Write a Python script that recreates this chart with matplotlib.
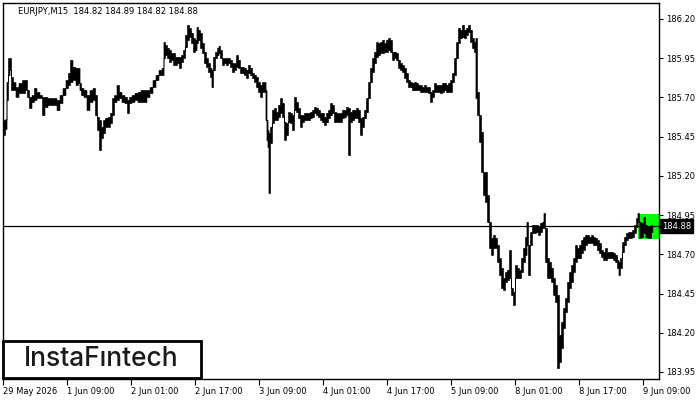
import matplotlib
matplotlib.use("Agg")
from matplotlib import pyplot as plt
from matplotlib.patches import Rectangle
import matplotlib.transforms as mtransforms

title = "EURJPY,M15  184.82 184.89 184.82 184.88"
last_price = 184.88

# M15 bars, index 0 = 29 May 2026 00:00
bar = [1, 3, 4, 6, 7, 9, 11, 14, 17, 21, 23, 25, 27, 30, 32, 35, 38, 40, 43, 46,
       49, 52, 55, 58, 61, 64, 66, 68, 71, 74, 76, 77, 79, 82, 85, 88, 91, 93, 95, 97,
       99, 101, 103, 106, 108, 110, 112, 115, 117, 120, 123, 125, 127, 130, 133, 136, 139, 142, 145, 148,
       151, 154, 157, 160, 161, 163, 165, 167, 169, 171, 173, 175, 177, 179, 181, 183, 185, 187, 189, 191,
       193, 194, 196, 198, 200, 202, 204, 206, 208, 209, 211, 213, 215, 216, 218, 220, 222, 224, 226, 228,
       230, 232, 234, 236, 238, 240, 242, 244, 246, 248, 250, 252, 254, 256, 258, 260, 262, 263, 264, 265,
       266, 268, 270, 272, 274, 276, 278, 280, 282, 284, 286, 288, 290, 292, 294, 296, 298, 300, 302, 304,
       306, 308, 310, 312, 314, 316, 318, 320, 322, 324, 326, 328, 330, 332, 335, 338, 340, 342, 344, 346,
       348, 350, 352, 354, 356, 358, 360, 362, 364, 366, 368, 370, 372, 374, 376, 378, 380, 382, 384, 386,
       388, 390, 392, 394, 396, 398, 400, 402, 404, 406, 408, 410, 412, 414, 416, 418, 420, 422, 424, 426,
       428, 430, 432, 434, 436, 438, 440, 442, 444, 446, 448, 450, 452, 454, 456, 458, 460, 462, 464, 466,
       468, 470, 472, 473, 475, 477, 479, 481, 483, 485, 487, 489, 491, 493, 495, 497, 499, 501, 503, 505,
       507, 509, 511, 513, 515, 517, 519, 521, 523, 524, 526, 528, 530, 532, 534, 536, 538, 540, 541, 543,
       545, 547, 549, 551, 553, 555, 557, 559, 561, 563, 565, 567, 569, 571, 573, 575, 577, 579, 581, 583,
       585, 587, 589, 591, 593, 595, 597, 599, 601, 603, 605, 607, 609, 611, 613, 615, 616, 618, 620, 622,
       624, 626, 628, 630, 632, 634, 635, 637, 639, 641, 643, 645, 647, 649]

high = [185.556, 185.560, 185.798, 185.951, 185.951, 185.830, 185.798, 185.766, 185.792, 185.811,
        185.811, 185.747, 185.703, 185.715, 185.760, 185.735, 185.715, 185.703, 185.703, 185.696,
        185.696, 185.696, 185.684, 185.715, 185.760, 185.811, 185.856, 185.939, 185.894, 185.888,
        185.888, 185.792, 185.760, 185.747, 185.715, 185.747, 185.760, 185.715, 185.575, 185.556,
        185.512, 185.556, 185.569, 185.575, 185.601, 185.696, 185.715, 185.779, 185.735, 185.715,
        185.703, 185.684, 185.703, 185.715, 185.728, 185.735, 185.747, 185.747, 185.747, 185.766,
        185.811, 185.843, 185.875, 185.888, 186.053, 186.034, 186.015, 186.002, 185.983, 185.983,
        185.958, 185.958, 185.958, 185.970, 186.002, 186.098, 186.162, 186.143, 186.111, 186.079,
        186.066, 186.149, 186.130, 186.111, 186.047, 185.990, 185.951, 185.919, 185.888, 185.875,
        185.958, 185.990, 186.015, 186.028, 186.002, 185.951, 185.951, 185.951, 185.951, 185.939,
        185.919, 185.919, 185.970, 185.939, 185.894, 185.894, 185.888, 185.875, 185.907, 185.888,
        185.856, 185.843, 185.830, 185.798, 185.779, 185.798, 185.798, 185.747, 185.556, 185.492,
        185.473, 185.512, 185.620, 185.633, 185.607, 185.652, 185.696, 185.664, 185.543, 185.537,
        185.607, 185.601, 185.588, 185.703, 185.671, 185.633, 185.588, 185.588, 185.601, 185.601,
        185.601, 185.607, 185.620, 185.639, 185.633, 185.620, 185.601, 185.601, 185.575, 185.601,
        185.620, 185.664, 185.652, 185.607, 185.601, 185.601, 185.620, 185.620, 185.639, 185.633,
        185.607, 185.620, 185.620, 185.633, 185.620, 185.569, 185.575, 185.620, 185.696, 185.798,
        185.888, 185.951, 185.990, 186.053, 186.047, 186.053, 186.066, 186.047, 186.066, 186.079,
        186.066, 185.990, 185.990, 185.983, 185.939, 185.919, 185.907, 185.888, 185.856, 185.811,
        185.798, 185.792, 185.798, 185.792, 185.779, 185.779, 185.766, 185.779, 185.766, 185.766,
        185.735, 185.747, 185.792, 185.779, 185.779, 185.779, 185.792, 185.792, 185.779, 185.792,
        185.811, 185.856, 185.951, 186.053, 186.143, 186.130, 186.162, 186.130, 186.143, 186.162,
        186.130, 186.079, 186.053, 186.079, 185.735, 185.588, 185.480, 185.225, 185.225, 185.078,
        184.906, 184.804, 184.823, 184.804, 184.759, 184.676, 184.613, 184.549, 184.587, 184.600,
        184.727, 184.485, 184.460, 184.632, 184.613, 184.600, 184.676, 184.740, 184.810, 184.906,
        184.759, 184.842, 184.887, 184.887, 184.887, 184.874, 184.900, 184.906, 184.963, 184.868,
        184.676, 184.651, 184.613, 184.549, 184.504, 184.441, 184.186, 184.269, 184.358, 184.422,
        184.524, 184.587, 184.632, 184.676, 184.759, 184.740, 184.759, 184.791, 184.810, 184.823,
        184.823, 184.810, 184.823, 184.810, 184.804, 184.791, 184.772, 184.727, 184.715, 184.740,
        184.715, 184.715, 184.715, 184.708, 184.696, 184.664, 184.651, 184.676, 184.778, 184.810,
        184.836, 184.842, 184.842, 184.855, 184.887, 184.931, 184.963, 184.906, 184.900, 184.938,
        184.887, 184.874, 184.874, 184.887]

low = [185.461, 185.500, 185.684, 185.843, 185.875, 185.747, 185.747, 185.703, 185.728, 185.728,
       185.747, 185.703, 185.633, 185.671, 185.684, 185.696, 185.696, 185.588, 185.639, 185.652,
       185.652, 185.652, 185.620, 185.664, 185.715, 185.760, 185.779, 185.798, 185.811, 185.779,
       185.792, 185.747, 185.715, 185.703, 185.620, 185.671, 185.684, 185.588, 185.492, 185.365,
       185.441, 185.473, 185.512, 185.512, 185.537, 185.588, 185.671, 185.684, 185.696, 185.671,
       185.664, 185.601, 185.664, 185.671, 185.684, 185.671, 185.671, 185.671, 185.703, 185.728,
       185.766, 185.811, 185.843, 185.843, 185.951, 185.970, 185.951, 185.926, 185.939, 185.907,
       185.907, 185.919, 185.888, 185.926, 185.951, 186.021, 186.066, 186.085, 186.047, 185.990,
       186.002, 186.047, 186.066, 186.015, 185.983, 185.919, 185.894, 185.862, 185.830, 185.766,
       185.875, 185.951, 185.970, 185.983, 185.951, 185.907, 185.919, 185.907, 185.919, 185.894,
       185.862, 185.875, 185.894, 185.888, 185.856, 185.856, 185.843, 185.824, 185.856, 185.843,
       185.824, 185.798, 185.766, 185.735, 185.703, 185.735, 185.735, 185.556, 185.429, 185.384,
       185.091, 185.410, 185.537, 185.556, 185.556, 185.575, 185.601, 185.575, 185.429, 185.461,
       185.543, 185.537, 185.492, 185.620, 185.607, 185.569, 185.512, 185.543, 185.556, 185.556,
       185.556, 185.569, 185.575, 185.601, 185.588, 185.575, 185.556, 185.543, 185.524, 185.543,
       185.569, 185.588, 185.601, 185.543, 185.543, 185.543, 185.569, 185.575, 185.588, 185.333,
       185.543, 185.556, 185.569, 185.569, 185.543, 185.461, 185.512, 185.569, 185.607, 185.696,
       185.798, 185.862, 185.919, 185.958, 185.970, 185.983, 185.983, 185.990, 185.990, 186.002,
       185.990, 185.939, 185.951, 185.939, 185.888, 185.875, 185.862, 185.824, 185.798, 185.766,
       185.766, 185.747, 185.747, 185.747, 185.747, 185.735, 185.735, 185.735, 185.735, 185.728,
       185.671, 185.703, 185.735, 185.735, 185.735, 185.728, 185.735, 185.747, 185.735, 185.735,
       185.735, 185.798, 185.843, 185.951, 186.047, 186.079, 186.085, 186.079, 186.098, 186.117,
       186.053, 186.015, 185.990, 185.696, 185.588, 185.416, 185.225, 185.078, 185.033, 184.906,
       184.740, 184.696, 184.740, 184.740, 184.651, 184.568, 184.485, 184.473, 184.524, 184.536,
       184.549, 184.441, 184.377, 184.549, 184.549, 184.549, 184.587, 184.651, 184.696, 184.759,
       184.568, 184.759, 184.836, 184.836, 184.842, 184.823, 184.842, 184.868, 184.868, 184.651,
       184.549, 184.549, 184.524, 184.441, 184.396, 183.975, 184.014, 184.103, 184.230, 184.332,
       184.396, 184.485, 184.524, 184.587, 184.651, 184.676, 184.676, 184.708, 184.727, 184.759,
       184.772, 184.772, 184.772, 184.759, 184.759, 184.727, 184.708, 184.683, 184.664, 184.664,
       184.676, 184.676, 184.676, 184.664, 184.651, 184.613, 184.568, 184.613, 184.715, 184.759,
       184.791, 184.804, 184.804, 184.810, 184.836, 184.874, 184.906, 184.804, 184.810, 184.836,
       184.810, 184.804, 184.804, 184.842]

tick_bars = [0, 64, 128, 192, 256, 320, 384, 448, 512, 576, 640]
tick_labels = ["29 May 2026", "1 Jun 09:00", "2 Jun 01:00", "2 Jun 17:00", "3 Jun 09:00",
               "4 Jun 01:00", "4 Jun 17:00", "5 Jun 09:00", "8 Jun 01:00", "8 Jun 17:00",
               "9 Jun 09:00"]
price_ticks = [186.20, 185.95, 185.70, 185.45, 185.20, 184.95, 184.70, 184.45, 184.20, 183.95]

# highlighted pattern at the end
pattern_bars = [635, 656]
pattern_prices = [184.800, 184.957]


def main():
    fig = plt.figure(figsize=(7, 4), dpi=100)
    ax = fig.add_axes([3 / 700, 21 / 400, 656 / 700, 376 / 400])
    ax.set_xlim(0, 656)
    ax.set_ylim(183.905, 186.302)

    ax.add_patch(Rectangle((pattern_bars[0], pattern_prices[0]),
                           pattern_bars[1] - pattern_bars[0],
                           pattern_prices[1] - pattern_prices[0],
                           facecolor="#00ff00", edgecolor="none", zorder=1))

    ax.fill_between(bar, low, high, step="mid", color="black", lw=0.4, zorder=3)
    ax.vlines(bar, low, high, color="black", lw=0.9, zorder=3)

    ax.axhline(last_price, color="black", lw=0.9, zorder=2)

    for s in ax.spines.values():
        s.set_color("black")
        s.set_linewidth(1.0)

    ax.set_xticks(tick_bars)
    ax.set_xticklabels(tick_labels, fontsize=6, ha="left")
    ax.tick_params(axis="x", direction="out", length=4, width=0.8, pad=2, colors="black")

    ax.yaxis.tick_right()
    ax.set_yticks(price_ticks)
    ax.set_yticklabels(["%.2f" % p for p in price_ticks], fontsize=6)
    ax.tick_params(axis="y", direction="out", length=3, width=0.8, pad=2, colors="black")

    trans = mtransforms.blended_transform_factory(ax.transAxes, ax.transData)
    ax.text(1.004, last_price, "%.2f" % last_price, transform=trans, fontsize=6,
            color="white", va="center", ha="left", clip_on=False,
            bbox=dict(boxstyle="square,pad=0.25", fc="black", ec="black"))

    ax.text(15 / 656, 0.978, title, transform=ax.transAxes, fontsize=6,
            color="black", va="center", ha="left")

    # logo box
    fig.patches.append(Rectangle((3 / 700, 22 / 400), 198 / 700, 37 / 400,
                                 transform=fig.transFigure, facecolor="white",
                                 edgecolor="black", lw=2, zorder=5))
    fig.text(101 / 700, 41 / 400, "InstaF\u0131ntech", fontsize=19, family="Inter",
             weight="medium", color="#1a1a1a", ha="center", va="center", zorder=6)

    fig.savefig("out.png", dpi=100)


if __name__ == '__main__':
    main()
